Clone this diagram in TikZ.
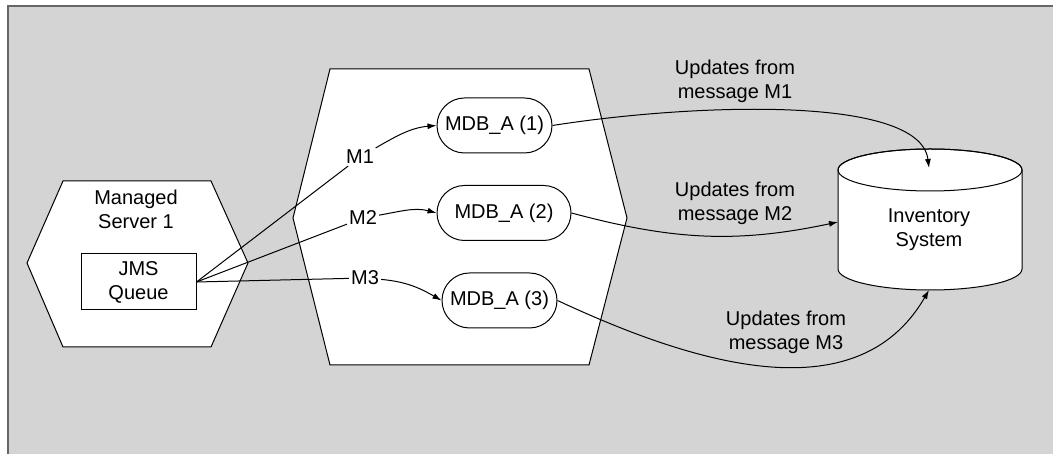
\documentclass[tikz,border=0pt]{standalone}
\usepackage{fontspec}
\setmainfont{Liberation Sans}
\usetikzlibrary{arrows.meta,shapes.misc}
\definecolor{panel}{HTML}{D4D4D4}
\definecolor{frame}{HTML}{666666}
\pgfdeclarelayer{bg}
\pgfsetlayers{bg,main}
\tikzset{
  txt/.style={align=center, font=\fontsize{20}{24}\selectfont},
  box/.style={txt, draw, fill=white, line width=1pt, minimum width=115pt, minimum height=56pt, inner sep=0pt},
  mdb/.style={txt, rounded rectangle, draw, fill=white, line width=1pt, minimum width=115pt, minimum height=55pt, inner sep=0pt},
  msg/.style={txt, inner sep=2pt},
  wire/.style={line width=1pt},
  flow/.style={line width=1pt, -{Latex[length=9pt,width=6pt]}},
  hex/.style={draw, fill=white, line width=1pt},
}
\begin{document}
\begin{tikzpicture}[x=1pt,y=1pt]
        \useasboundingbox (0,0) rectangle (1053,454);
        \node (srv) [txt] at (136,245) {Managed\\Server 1};
        \node (queue) [box] at (138.5,172) {JMS\\Queue};
        \node (mdb1) [mdb] at (494.5,328.5) {MDB\_A (1)};
        \node (mdb2) [mdb, minimum width=134pt] at (504,241) {MDB\_A (2)};
        \node (mdb3) [mdb] at (499.5,153.5) {MDB\_A (3)};
        \node (m1) [msg] at (360,297) {M1};
        \node (m2) [msg] at (363,236) {M2};
        \node (m3) [msg] at (365,176) {M3};
        \node (inv) [txt] at (929,224) {Inventory\\System};
        \node (u1) [txt] at (735,373) {Updates from\\message M1};
        \node (u2) [txt] at (735,251) {Updates from\\message M2};
        \node (u3) [txt] at (786,122) {Updates from\\message M3};
        \coordinate (invtop) at (929,286);
        \coordinate (invwest) at (838,232);
        \coordinate (invbot) at (929,164);
        \begin{pgfonlayer}{bg}
                % grey panel
                \fill [panel] (7,0) rectangle (1053,449);
                \draw [frame, line width=2pt] (8,0) -- (8,448) -- (1053,448);
                % servers
                \draw [hex] (63,273) -- (211,273) -- (248,191) -- (211,107) -- (63,107) -- (27,191) -- cycle;
                \draw [hex] (330,385) -- (589,385) -- (627,236) -- (589,89) -- (330,89) -- (293,236) -- cycle;
                % database
                \draw [hex] (838,284) -- (838,185) arc [start angle=180, end angle=360, x radius=92, y radius=21]
                        -- (1022,284) arc [start angle=0, end angle=180, x radius=92, y radius=21] -- cycle;
                \draw [line width=1pt] (930,284) ellipse [x radius=92, y radius=21];
                \draw (queue.east) edge [wire] (m1);
                \draw (queue.east) edge [wire] (m2);
                \draw (queue.east) edge [wire] (m3);
                \draw (m1) edge [flow, out=30, in=185] (mdb1.west);
                \draw (m2) edge [flow, out=10, in=165] (mdb2.west);
                \draw (m3) edge [flow, out=-5, in=150] (mdb3.west);
                \draw (mdb1.east) edge [flow, out=9, in=97, out distance=135pt, in distance=75pt] (invtop);
                \draw (mdb2.east) edge [flow, out=-15, in=192] (invwest);
                \draw (mdb3.east) edge [flow, out=-25, in=-120] (invbot);
        \end{pgfonlayer}
\end{tikzpicture}
\end{document}
